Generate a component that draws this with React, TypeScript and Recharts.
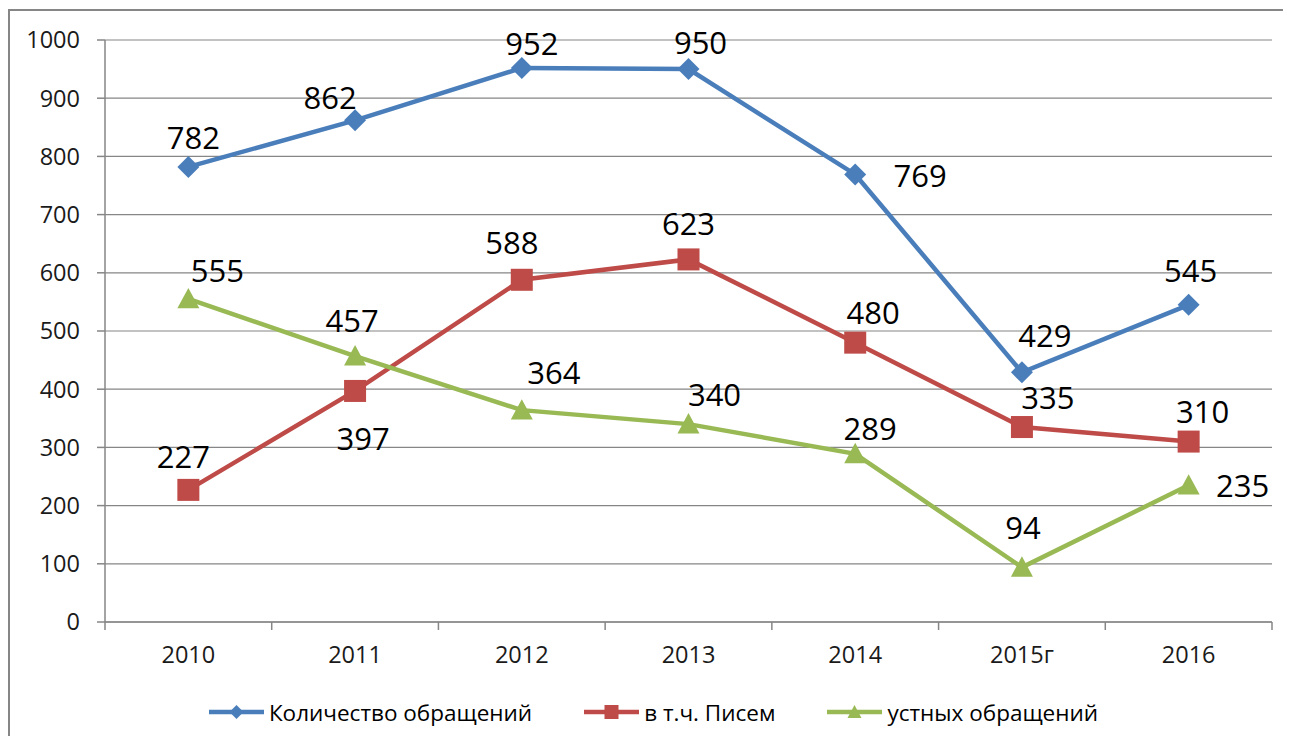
import React from 'react';
import { LineChart, Line, XAxis, YAxis, CartesianGrid, Legend } from 'recharts';

const years = ['2010', '2011', '2012', '2013', '2014', '2015г', '2016'];
const totalRequests = [782, 862, 952, 950, 769, 429, 545];
const letters = [227, 397, 588, 623, 480, 335, 310];
const oralRequests = [555, 457, 364, 340, 289, 94, 235];
const yTicks = [0, 100, 200, 300, 400, 500, 600, 700, 800, 900, 1000];

const seriesNames = {
    total: 'Количество обращений',
    letters: 'в т.ч. Писем',
    oral: 'устных обращений',
};

const data = years.map((year, i) => ({
    year,
    total: totalRequests[i],
    letters: letters[i],
    oral: oralRequests[i],
}));

// label placement (dx, dy from the point), like Excel's hand-dragged labels
const totalLabelPos = [[5, -30], [-25, -23], [10, -25], [12, -27], [65, 1], [23, -37], [2, -35]];
const lettersLabelPos = [[-5, -34], [8, 47], [-10, -38], [0, -36], [18, -31], [26, -30], [14, -31]];
const oralLabelPos = [[29, -29], [-3, -36], [32, -38], [26, -30], [15, -26], [1, -40], [54, 0]];

const BLUE = '#4A7EBB';
const RED = '#BE4B48';
const GREEN = '#98B954';
const AXIS = '#868686';
const FONT = '"Open Sans", "DejaVu Sans", sans-serif';

const CHART_W = 1273;
const CHART_H = 725;
const MARGIN = { top: 29, right: 11, bottom: 4, left: 25 };
const Y_AXIS_W = 70;
const PLOT_W = CHART_W - MARGIN.left - MARGIN.right - Y_AXIS_W;
const BAND = PLOT_W / years.length;

const Marker = ({ shape, cx, cy, r, color }: { shape: string; cx: number; cy: number; r: number; color: string }) => {
    if (shape === 'diamond') {
        return <polygon points={`${cx},${cy - r} ${cx + r},${cy} ${cx},${cy + r} ${cx - r},${cy}`} fill={color} />;
    }
    if (shape === 'square') {
        return <rect x={cx - r} y={cy - r} width={r * 2} height={r * 2} fill={color} />;
    }
    return <polygon points={`${cx},${cy - r} ${cx + r},${cy + r * 0.85} ${cx - r},${cy + r * 0.85}`} fill={color} />;
};

const makeDot = (shape: string, color: string, r: number) => (props: any) => {
    const { cx, cy, index } = props;
    if (cx == null || cy == null) return <g key={index} />;
    return (
        <g key={`dot-${shape}-${index}`}>
            <Marker shape={shape} cx={cx} cy={cy} r={r} color={color} />
        </g>
    );
};

const makeLabel = (pos: number[][]) => (props: any) => {
    const { x, y, value, index } = props;
    const [dx, dy] = pos[index] || [0, -30];
    return (
        <text
            key={`lbl-${index}`}
            x={x + dx}
            y={y + dy}
            textAnchor="middle"
            dominantBaseline="central"
            fontFamily={FONT}
            fontSize={31}
            fill="#000"
        >
            {value}
        </text>
    );
};

const XTick = (props: any) => {
    const { x, y, payload, index } = props;
    return (
        <g>
            <line x1={x - BAND / 2} y1={y} x2={x - BAND / 2} y2={y + 8} stroke={AXIS} strokeWidth={1.5} />
            {index === years.length - 1 && (
                <line x1={x + BAND / 2} y1={y} x2={x + BAND / 2} y2={y + 8} stroke={AXIS} strokeWidth={1.5} />
            )}
            <text x={x} y={y + 41} textAnchor="middle" fontFamily={FONT} fontSize={23.5} fill="#1a1a1a">
                {payload.value}
            </text>
        </g>
    );
};

const shapeByKey: Record<string, string> = { total: 'diamond', letters: 'square', oral: 'triangle' };

const LegendContent = (props: any) => {
    const { payload } = props;
    return (
        <div style={{ height: 40, display: 'flex', alignItems: 'center', justifyContent: 'center', fontFamily: FONT, fontSize: 22.5, color: '#000' }}>
            {(payload || []).map((item: any, i: number) => (
                <div key={i} style={{ display: 'flex', alignItems: 'center', marginLeft: i === 0 ? 0 : 52 }}>
                    <svg width={55} height={20}>
                        <line x1={0} y1={10} x2={55} y2={10} stroke={item.color} strokeWidth={4.5} />
                        <Marker shape={shapeByKey[item.dataKey]} cx={27.5} cy={10} r={7} color={item.color} />
                    </svg>
                    <span style={{ marginLeft: 5, whiteSpace: 'nowrap' }}>{item.value}</span>
                </div>
            ))}
        </div>
    );
};

export default function App() {
    return (
        <div style={{ marginTop: 1, width: CHART_W + 8, borderTop: `2px solid ${AXIS}`, borderLeft: `2px solid ${AXIS}`, background: '#fff' }}>
            <style>{'html, body { overflow: hidden; }'}</style>
            <div style={{ width: CHART_W - 4, height: CHART_H, overflow: 'hidden' }}>
                <LineChart width={CHART_W} height={CHART_H} data={data} margin={MARGIN}>
                    <CartesianGrid vertical={false} stroke={AXIS} strokeWidth={1.2} />
                    <XAxis
                        dataKey="year"
                        scale="band"
                        height={70}
                        axisLine={{ stroke: AXIS, strokeWidth: 1.5 }}
                        tickLine={false}
                        tickSize={0}
                        tickMargin={0}
                        tick={<XTick />}
                        interval={0}
                    />
                    <YAxis
                        width={Y_AXIS_W}
                        domain={[0, 1000]}
                        ticks={yTicks}
                        interval={0}
                        axisLine={{ stroke: AXIS, strokeWidth: 1.5 }}
                        tickLine={{ stroke: AXIS, strokeWidth: 1.5 }}
                        tickSize={8}
                        tickMargin={17}
                        tick={{ fontFamily: FONT, fontSize: 23.5, fill: '#1a1a1a' }}
                    />
                    <Legend verticalAlign="bottom" content={<LegendContent />} />
                    <Line
                        dataKey="total"
                        name={seriesNames.total}
                        stroke={BLUE}
                        strokeWidth={4.5}
                        dot={makeDot('diamond', BLUE, 11)}
                        activeDot={false}
                        label={makeLabel(totalLabelPos)}
                        isAnimationActive={false}
                    />
                    <Line
                        dataKey="letters"
                        name={seriesNames.letters}
                        stroke={RED}
                        strokeWidth={4.5}
                        dot={makeDot('square', RED, 11)}
                        activeDot={false}
                        label={makeLabel(lettersLabelPos)}
                        isAnimationActive={false}
                    />
                    <Line
                        dataKey="oral"
                        name={seriesNames.oral}
                        stroke={GREEN}
                        strokeWidth={4.5}
                        dot={makeDot('triangle', GREEN, 11)}
                        activeDot={false}
                        label={makeLabel(oralLabelPos)}
                        isAnimationActive={false}
                    />
                </LineChart>
            </div>
        </div>
    );
}
